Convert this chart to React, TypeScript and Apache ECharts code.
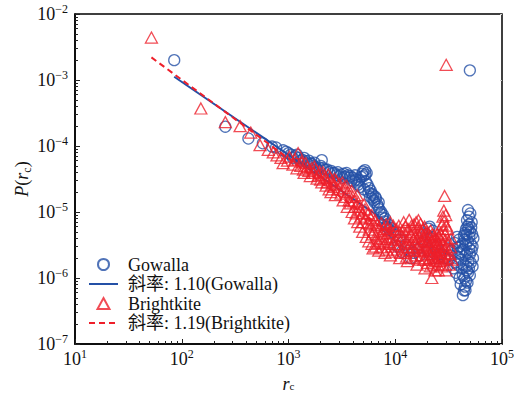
import React, { useEffect, useRef } from "react";
import * as echarts from "echarts";

// r_c (distance) vs P(r_c) for the two check-in datasets
const gowallaHead: [number, number][] = [
  [85, 2.0e-3], [256, 1.96e-4], [421, 1.3e-4], [575, 1.1e-4], [700, 9.8e-5],
  [764, 9.5e-5], [890, 8.6e-5], [950, 8.2e-5], [1000, 7.8e-5], [1050, 7.4e-5],
  [1100, 6.6e-5], [1150, 7.0e-5], [1200, 7.4e-5], [1250, 6.6e-5], [1300, 6.0e-5],
  [1350, 6.2e-5], [1400, 6.6e-5], [1450, 5.9e-5], [1500, 5.5e-5], [1550, 6.0e-5],
  [1600, 5.4e-5], [1650, 5.4e-5], [1700, 5.0e-5], [1750, 5.6e-5], [1800, 4.8e-5],
  [1850, 4.5e-5], [1950, 4.7e-5], [2000, 5.0e-5], [2050, 6.1e-5], [2100, 4.6e-5],
  [2200, 4.4e-5], [2300, 4.4e-5], [2400, 4.0e-5], [2500, 4.2e-5], [2600, 3.9e-5],
  [2700, 3.9e-5], [2800, 3.6e-5], [2900, 4.0e-5], [3000, 3.5e-5], [3100, 3.7e-5],
  [3200, 3.3e-5], [3300, 3.8e-5], [3400, 3.4e-5], [3500, 3.9e-5], [3600, 3.6e-5],
  [3700, 3.3e-5], [3800, 3.5e-5], [3900, 3.0e-5], [4000, 3.3e-5], [4100, 2.9e-5],
  [4200, 3.6e-5], [4300, 3.1e-5], [4400, 2.8e-5], [4500, 2.6e-5], [4600, 3.0e-5],
  [4700, 2.4e-5], [4800, 3.4e-5], [4900, 3.8e-5], [5000, 4.1e-5], [5050, 3.5e-5],
  [5100, 2.2e-5], [5200, 4.3e-5], [5250, 3.7e-5], [5300, 2.9e-5], [5400, 3.9e-5],
  [5500, 2.6e-5], [5600, 2.0e-5], [5700, 2.3e-5], [5800, 1.7e-5], [5900, 2.1e-5],
  [6000, 1.9e-5], [6100, 1.6e-5], [6200, 1.8e-5], [6300, 1.5e-5], [6400, 1.4e-5],
  [6500, 1.7e-5], [6600, 1.6e-5], [6800, 1.3e-5], [6900, 1.2e-5], [7000, 1.4e-5],
  [7100, 1.1e-5], [7300, 9.5e-6], [7400, 1.0e-5], [7600, 8.2e-6], [7700, 9.0e-6],
  [7900, 7.2e-6], [8000, 8.0e-6], [8300, 6.0e-6], [8500, 6.5e-6], [8800, 5.4e-6],
  [9000, 5.8e-6], [9500, 5.0e-6],
];

const gowallaBand: [number, number][] = [
  [10000, 4.5e-6], [10500, 3.0e-6], [11000, 3.8e-6], [11500, 2.5e-6], [12500, 3.2e-6],
  [13500, 2.6e-6], [14000, 2.0e-6], [15000, 2.4e-6], [16500, 2.8e-6], [17000, 2.2e-6],
  [18000, 3.5e-6], [19500, 4.6e-6], [20000, 2.6e-6], [20500, 5.6e-6], [21000, 6.0e-6],
  [21500, 4.0e-6], [22500, 5.2e-6], [23000, 2.4e-6], [24000, 3.0e-6], [25000, 2.0e-6],
  [26000, 2.3e-6], [27000, 2.3e-6], [29000, 2.0e-6], [31000, 2.8e-6],
];

const gowallaTail: [number, number][] = [
  [32000, 1.9e-6], [33000, 2.2e-6], [34000, 2.6e-6], [35000, 1.4e-6], [36000, 3.4e-6],
  [36500, 1.7e-6], [37000, 1.2e-6], [38000, 4.2e-6], [38000, 1.6e-6], [38500, 2.9e-6],
  [39000, 2.1e-6], [39500, 3.8e-6], [40000, 1.0e-6], [40000, 2.4e-6], [40500, 3.0e-6],
  [41000, 8.0e-7], [41500, 1.9e-6], [42000, 2.5e-6], [42000, 1.4e-6], [42500, 3.3e-6],
  [43000, 5.5e-7], [43000, 1.1e-6], [43500, 1.6e-6], [44000, 6.5e-7], [44000, 2.7e-6],
  [44000, 4.4e-6], [44500, 3.8e-6], [44500, 1.0e-6], [45000, 7.4e-7], [45000, 4.8e-6],
  [45500, 2.2e-6], [45500, 6.5e-7], [46000, 9.0e-7], [46000, 3.2e-6], [46000, 5.5e-6],
  [46500, 4.5e-6], [46500, 1.5e-6], [47000, 1.3e-6], [47000, 2.4e-6], [47000, 7.5e-6],
  [47500, 6.0e-6], [47500, 8.5e-7], [48000, 1.07e-5], [48000, 3.6e-6], [48000, 1.2e-6],
  [48500, 1.8e-6], [48500, 5.5e-6], [49000, 8.5e-6], [49000, 1.4e-6], [49000, 6.5e-6],
  [49500, 2.8e-6], [49500, 4.2e-6], [50000, 1.1e-6], [50000, 2.3e-6], [50500, 5.0e-6],
  [50500, 9.5e-6], [51000, 3.3e-6], [51000, 1.7e-6], [51500, 5.8e-6], [52000, 7.0e-6],
  [52000, 2.6e-6], [52500, 4.6e-6], [53000, 1.5e-6], [53000, 3.0e-6], [53500, 2.0e-6],
  [54000, 4.0e-6],
  [50000, 1.4e-3],
];

const brightkiteHead: [number, number][] = [
  [52, 4.4e-3], [151, 3.7e-4], [256, 2.3e-4], [352, 2.0e-4], [443, 1.6e-4],
  [541, 1.03e-4], [646, 8.7e-5], [720, 8.0e-5], [780, 7.2e-5], [850, 6.6e-5],
  [890, 5.5e-5], [980, 6.0e-5], [1020, 6.9e-5], [1100, 5.2e-5], [1150, 6.2e-5],
  [1200, 4.6e-5], [1230, 7.8e-5], [1300, 5.0e-5], [1320, 5.8e-5], [1380, 4.4e-5],
  [1400, 3.9e-5], [1450, 5.5e-5], [1500, 4.8e-5], [1550, 4.2e-5], [1600, 3.5e-5],
  [1650, 4.6e-5], [1700, 3.9e-5], [1750, 4.9e-5], [1800, 4.4e-5], [1850, 3.2e-5],
  [1900, 3.6e-5], [1950, 4.1e-5], [2000, 3.1e-5], [2050, 2.8e-5], [2100, 4.0e-5],
  [2150, 3.6e-5], [2200, 3.3e-5], [2250, 2.5e-5], [2300, 2.8e-5], [2350, 3.7e-5],
  [2400, 2.2e-5], [2450, 3.4e-5], [2500, 2.0e-5], [2550, 3.0e-5], [2600, 2.6e-5],
  [2650, 2.4e-5], [2700, 3.2e-5], [2750, 1.8e-5], [2800, 3.0e-5], [2900, 2.2e-5],
  [3000, 2.7e-5], [3100, 1.9e-5], [3200, 2.8e-5], [3250, 1.5e-5], [3300, 2.3e-5],
  [3400, 1.7e-5], [3500, 2.5e-5], [3550, 1.2e-5], [3600, 2.0e-5], [3700, 1.5e-5],
  [3800, 1.35e-5], [3900, 2.1e-5], [3950, 1.0e-5], [4000, 1.7e-5], [4100, 1.45e-5],
  [4150, 8.0e-6], [4200, 1.2e-5], [4300, 9.5e-6], [4400, 1.8e-5], [4450, 7.0e-6],
  [4500, 1.4e-5], [4600, 1.2e-5], [4650, 6.0e-6], [4700, 1.05e-5], [4800, 8.5e-6],
  [4900, 9.5e-6], [4950, 5.0e-6], [5000, 7.0e-6], [5100, 1.3e-5], [5200, 1.1e-5],
  [5300, 8.0e-6], [5350, 4.2e-6], [5500, 6.8e-6], [5600, 9.5e-6], [5650, 3.6e-6],
  [5700, 5.4e-6], [5800, 6.5e-6], [5900, 8.0e-6], [6000, 9.0e-6], [6050, 3.3e-6],
  [6100, 4.6e-6], [6200, 2.8e-6], [6300, 5.0e-6], [6400, 6.0e-6], [6500, 7.5e-6],
  [6550, 3.0e-6], [6700, 4.0e-6], [6800, 6.4e-6], [6900, 3.4e-6], [7000, 5.2e-6],
  [7000, 2.6e-6], [7200, 4.4e-6], [7300, 3.6e-6], [7400, 6.8e-6], [7500, 2.9e-6],
  [7600, 4.7e-6], [7800, 5.5e-6], [7900, 3.9e-6], [8000, 3.3e-6], [8000, 2.4e-6],
  [8200, 6.5e-6], [8300, 2.7e-6], [8400, 5.6e-6], [8600, 4.8e-6], [8700, 3.5e-6],
  [8800, 4.2e-6], [9000, 2.2e-6], [9000, 7.0e-6], [9100, 5.2e-6], [9200, 3.0e-6],
  [9400, 4.0e-6], [9500, 2.5e-6], [9600, 6.2e-6], [9800, 3.3e-6],
];

const brightkiteBand: [number, number][] = [
  [10000, 3.8e-6], [10200, 5.5e-6], [10400, 4.4e-6], [10500, 2.7e-6], [10700, 3.2e-6],
  [10800, 6.2e-6], [11000, 5.0e-6], [11000, 2.0e-6], [11200, 2.4e-6], [11300, 3.7e-6],
  [11500, 4.3e-6], [11800, 5.3e-6], [11900, 2.9e-6], [12000, 7.0e-6], [12200, 4.0e-6],
  [12400, 6.0e-6], [12500, 2.4e-6], [12700, 3.0e-6], [12800, 2.1e-6], [13000, 3.5e-6],
  [13000, 1.8e-6], [13200, 5.5e-6], [13300, 4.2e-6], [13500, 7.6e-6], [13700, 2.6e-6],
  [13800, 3.3e-6], [14000, 4.6e-6], [14200, 6.2e-6], [14300, 2.0e-6], [14500, 2.9e-6],
  [14700, 3.8e-6], [14800, 5.0e-6], [15000, 6.5e-6], [15200, 2.6e-6], [15300, 4.2e-6],
  [15500, 2.2e-6], [15700, 7.0e-6], [15800, 3.3e-6], [16000, 3.9e-6], [16000, 1.6e-6],
  [16200, 5.8e-6], [16300, 2.9e-6], [16500, 7.5e-6], [16700, 4.4e-6], [16800, 1.9e-6],
  [17000, 5.3e-6], [17200, 3.6e-6], [17300, 6.6e-6], [17500, 2.6e-6], [17700, 4.8e-6],
  [17800, 2.2e-6], [18000, 3.2e-6], [18200, 5.6e-6], [18300, 2.7e-6], [18500, 1.9e-6],
  [18700, 3.9e-6], [18800, 6.0e-6], [19000, 4.4e-6], [19000, 1.4e-6], [19200, 3.0e-6],
  [19300, 2.0e-6], [19500, 2.8e-6], [19700, 5.0e-6], [19800, 3.6e-6], [20000, 1.7e-6],
  [20200, 2.5e-6], [20300, 4.6e-6], [20500, 3.6e-6], [20700, 1.9e-6], [20800, 3.1e-6],
  [21000, 2.3e-6], [21200, 4.2e-6], [21300, 1.5e-6], [21500, 5.2e-6], [21700, 2.8e-6],
  [21800, 3.5e-6], [22000, 1.0e-6], [22200, 4.6e-6], [22300, 2.3e-6], [22500, 2.0e-6],
  [22700, 1.6e-6], [22800, 3.8e-6], [23000, 3.0e-6], [23200, 2.6e-6], [23300, 4.4e-6],
  [23500, 1.3e-6], [23700, 2.0e-6], [23800, 3.3e-6], [24000, 4.0e-6], [24200, 1.8e-6],
  [24300, 2.9e-6], [24500, 2.5e-6], [24700, 3.7e-6], [24800, 4.6e-6], [25000, 1.6e-6],
  [25200, 2.2e-6], [25300, 1.3e-6], [25500, 3.3e-6], [25700, 2.7e-6], [25800, 4.2e-6],
  [26000, 2.1e-6], [26200, 1.8e-6], [26300, 3.0e-6], [26500, 4.8e-6], [26700, 2.4e-6],
  [26800, 3.8e-6], [27000, 2.7e-6], [27200, 1.5e-6], [27300, 4.4e-6], [27500, 6.5e-6],
  [27700, 2.1e-6], [27800, 3.2e-6], [28000, 8.5e-6], [28200, 5.5e-6], [28300, 1.9e-6],
  [28500, 1.05e-5], [28700, 7.2e-6], [28800, 2.6e-6], [29000, 1.75e-5], [29200, 4.6e-6],
  [29300, 1.6e-6], [29500, 3.8e-6], [29700, 9.0e-6], [29800, 3.0e-6], [30000, 1.3e-6],
  [30200, 6.2e-6], [30500, 2.4e-6], [30800, 2.0e-6], [31000, 5.5e-6], [31500, 3.6e-6],
  [32000, 1.6e-6], [32500, 2.3e-6], [33000, 2.9e-6], [33500, 4.0e-6], [34000, 1.9e-6],
  [30000, 1.7e-3],
];

// Power-law fit lines (end points of each fitted segment)
const gowallaFit: [number, number][] = [[85, 1.12e-3], [9000, 6.5e-6]];
const brightkiteFit: [number, number][] = [[52, 2.2e-3], [9000, 4.7e-6]];

const seriesNames = ["Gowalla", "斜率: 1.10(Gowalla)", "Brightkite", "斜率: 1.19(Brightkite)"];

const xMinorTicks = [2, 3, 4, 5, 6, 7, 8, 9].flatMap((m) => [m * 10, m * 100, m * 1000, m * 10000]);
const yMinorTicks = [2, 3, 4, 5, 6, 7, 8, 9].flatMap((m) => [m * 1e-7, m * 1e-6, m * 1e-5, m * 1e-4, m * 1e-3]);

const BLUE = "#2450a6";
const RED = "#ee1f2a";
const FONT = "Liberation Serif, Noto Sans CJK SC, serif";
const INK = "#111";

const powRich = {
  b: { fontFamily: FONT, fontSize: 18, color: INK, lineHeight: 22 },
  s: { fontFamily: FONT, fontSize: 12, color: INK, lineHeight: 12, verticalAlign: "top" as const },
};

const powLabel = (v: number) => {
  const e = Math.round(Math.log10(v));
  return `{b|10}{s|${e < 0 ? "−" + -e : e}}`;
};

const yNameRich = {
  i: { fontFamily: FONT, fontSize: 18, fontStyle: "italic" as const, color: INK, lineHeight: 22 },
  n: { fontFamily: FONT, fontSize: 18, color: INK, lineHeight: 22 },
  sub: { fontFamily: FONT, fontSize: 12, color: INK, lineHeight: 13, verticalAlign: "bottom" as const },
};

const xNameRich = {
  i: { fontFamily: FONT, fontSize: 18, fontStyle: "italic" as const, color: INK, lineHeight: 14 },
  sub: { fontFamily: FONT, fontSize: 11, color: INK, lineHeight: 10, verticalAlign: "bottom" as const },
};

const TRIANGLE_ICON = "path://M6,0 L12,11 L0,11 Z";

export default function App() {
  const ref = useRef<HTMLDivElement>(null);

  useEffect(() => {
    if (!ref.current) return;
    const chart = echarts.init(ref.current, undefined, { renderer: "svg" });

    const minorAxis = (vals: number[]) => ({
      type: "log" as const,
      logBase: 10,
      axisLine: { show: false },
      axisLabel: { show: false },
      splitLine: { show: false },
      axisTick: { show: true, inside: true, length: 3, customValues: vals, lineStyle: { color: "#222", width: 1 } },
    });

    chart.setOption({
      animation: false,
      backgroundColor: "#fff",
      grid: {
        left: 75,
        right: 12,
        top: 14,
        bottom: 49,
        outerBoundsMode: "none",
        show: true,
        borderColor: "#000",
        borderWidth: 1.5,
      },
      legend: {
        orient: "vertical",
        left: 88,
        top: 255,
        padding: 0,
        itemWidth: 29,
        itemHeight: 11,
        itemGap: 0.5,
        symbolKeepAspect: true,
        textStyle: { fontFamily: FONT, fontSize: 18, lineHeight: 19, color: INK, padding: [0, 0, 0, 5] },
        data: [
          { name: seriesNames[0], icon: "circle" },
          { name: seriesNames[1], itemStyle: { opacity: 0 } },
          { name: seriesNames[2], icon: TRIANGLE_ICON },
          { name: seriesNames[3], itemStyle: { opacity: 0 } },
        ],
      },
      xAxis: [
        {
          type: "log",
          logBase: 10,
          min: 10,
          max: 100000,
          position: "bottom",
          name: "{i|r}{sub|c}",
          nameLocation: "middle",
          nameGap: 33,
          nameMoveOverlap: false,
          nameTextStyle: { rich: xNameRich },
          axisLine: { show: true, lineStyle: { color: "#000", width: 1.5 } },
          axisTick: { show: true, inside: true, length: 5, lineStyle: { color: "#222" } },
          axisLabel: { formatter: powLabel, rich: powRich, margin: 4 },
          splitLine: { show: false },
        },
        { ...minorAxis(xMinorTicks), min: 10, max: 100000, position: "bottom" },
      ],
      yAxis: [
        {
          type: "log",
          logBase: 10,
          min: 1e-7,
          max: 1e-2,
          position: "left",
          name: "{i|P}{n|(}{i|r}{sub|c}{n|)}",
          nameLocation: "middle",
          nameRotate: 90,
          nameGap: 42,
          nameMoveOverlap: false,
          nameTextStyle: { rich: yNameRich },
          axisLine: { show: true, lineStyle: { color: "#000", width: 1.5 } },
          axisTick: { show: true, inside: true, length: 5, lineStyle: { color: "#222" } },
          axisLabel: { formatter: powLabel, rich: powRich, margin: 7 },
          splitLine: { show: false },
        },
        { ...minorAxis(yMinorTicks), min: 1e-7, max: 1e-2, position: "left" },
        {
          type: "log",
          logBase: 10,
          min: 1e-7,
          max: 1e-2,
          position: "right",
          axisLine: { show: false },
          axisLabel: { show: false },
          splitLine: { show: false },
          axisTick: { show: true, inside: true, length: 2, lineStyle: { color: "#c8c8c8" } },
        },
      ],
      series: [
        {
          name: seriesNames[0],
          type: "scatter",
          data: [...gowallaHead, ...gowallaBand, ...gowallaTail],
          symbol: "circle",
          symbolSize: 11,
          itemStyle: { color: "rgba(0,0,0,0)", borderColor: BLUE, borderWidth: 1.3 },
          z: 2,
        },
        {
          name: seriesNames[1],
          type: "line",
          data: gowallaFit,
          symbol: "none",
          lineStyle: { color: BLUE, width: 2 },
          itemStyle: { color: BLUE },
          z: 3,
        },
        {
          name: seriesNames[2],
          type: "scatter",
          data: [...brightkiteHead, ...brightkiteBand],
          symbol: "triangle",
          symbolSize: [12, 11],
          itemStyle: { color: "rgba(0,0,0,0)", borderColor: RED, borderWidth: 1.3 },
          z: 4,
        },
        {
          name: seriesNames[3],
          type: "line",
          data: brightkiteFit,
          symbol: "none",
          lineStyle: { color: RED, width: 2, type: [6, 4] },
          itemStyle: { color: RED },
          z: 5,
        },
      ],
    });

    return () => chart.dispose();
  }, []);

  return <div ref={ref} style={{ width: 514, height: 393, position: "absolute", left: 0, top: 0 }} />;
}
